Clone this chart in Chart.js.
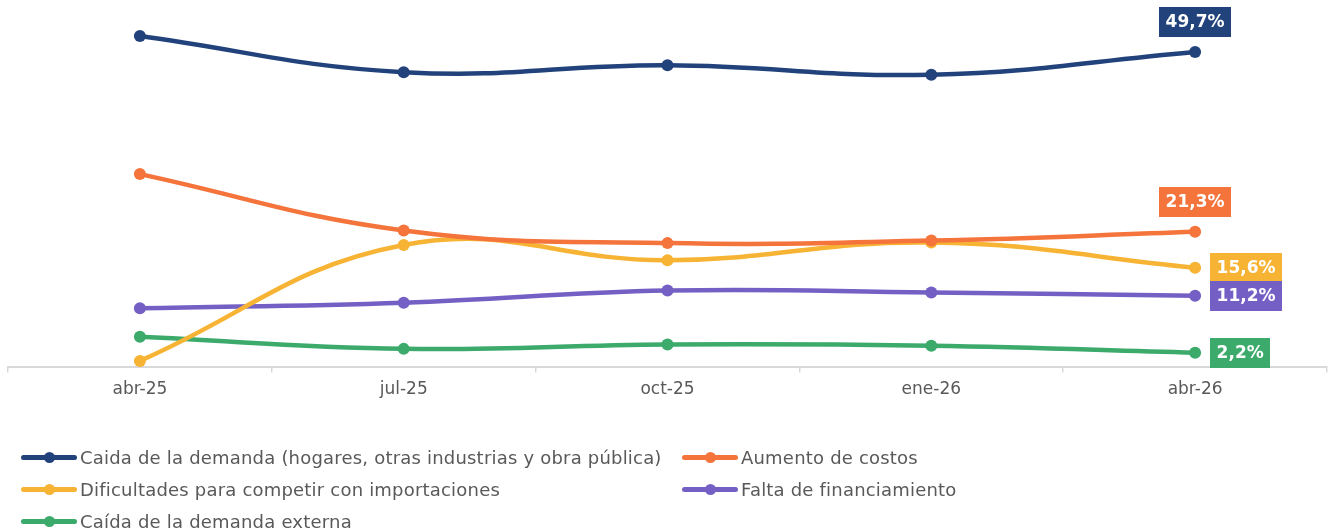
<!DOCTYPE html>
<html>
<head>
<meta charset="utf-8">
<script src="https://cdn.jsdelivr.net/npm/chart.js@4"></script>
<style>
  html, body { margin: 0; padding: 0; background: #ffffff; }
  #wrap { position: relative; width: 1333px; height: 531px; overflow: hidden; }
  #chartBox { position: absolute; left: 0; top: 0; width: 1333px; height: 407px; }
  #legend { position: absolute; left: 0; top: 0; width: 1333px; height: 531px; pointer-events: none;
            font-family: "DejaVu Sans", sans-serif; font-size: 18px; letter-spacing: 0.2px; color: #595959; }
  .item { position: absolute; height: 24px; display: flex; align-items: center; white-space: nowrap; }
  .sw { position: relative; width: 56px; height: 5px; border-radius: 3px; margin-right: 3px; }
  .sw::after { content: ""; position: absolute; left: 23px; top: -3px; width: 11px; height: 11px; border-radius: 50%; background: inherit; }
</style>
</head>
<body>
<div id="wrap">
  <div id="chartBox"><canvas id="c"></canvas></div>
  <div id="legend"></div>
</div>
<script>
const categories = ['abr-25', 'jul-25', 'oct-25', 'ene-26', 'abr-26'];
const seriesNames = [
  'Caida de la demanda (hogares, otras industrias y obra pública)',
  'Aumento de costos',
  'Dificultades para competir con importaciones',
  'Falta de financiamiento',
  'Caída de la demanda externa'
];
const demandaInterna = [52.2, 46.5, 47.6, 46.1, 49.7];
const aumentoCostos = [30.4, 21.5, 19.5, 19.9, 21.3];
const importaciones = [0.9, 19.2, 16.8, 19.6, 15.6];
const financiamiento = [9.2, 10.1, 12.0, 11.7, 11.2];
const demandaExterna = [4.7, 2.8, 3.5, 3.3, 2.2];
const seriesColors = ['#22427c', '#f4743b', '#f7b334', '#7460c4', '#3baa6b'];
const labelSide = ['top', 'top', 'right', 'right', 'right'];

const allValues = [demandaInterna, aumentoCostos, importaciones, financiamiento, demandaExterna];

const datasets = allValues.map((vals, i) => ({
  label: seriesNames[i],
  data: vals,
  borderColor: seriesColors[i],
  backgroundColor: seriesColors[i],
  borderWidth: 4.5,
  pointRadius: 6,
  pointHoverRadius: 6,
  pointBorderWidth: 0,
  tension: 0.42,
  clip: false,
  fill: false
}));

const fmt = v => v.toFixed(1).replace('.', ',') + '%';

const lastLabels = {
  id: 'lastLabels',
  afterDatasetsDraw(chart) {
    const ctx = chart.ctx;
    ctx.save();
    ctx.font = 'bold 17px "DejaVu Sans", sans-serif';
    ctx.textBaseline = 'middle';
    ctx.textAlign = 'center';
    chart.data.datasets.forEach((ds, i) => {
      const meta = chart.getDatasetMeta(i);
      const n = ds.data.length - 1;
      const pt = meta.data[n];
      const txt = fmt(ds.data[n]);
      const w = ctx.measureText(txt).width + 13;
      const h = 30;
      let cx, cy;
      if (labelSide[i] === 'top') {
        cx = pt.x; cy = pt.y - 15 - h / 2;
      } else {
        cx = pt.x + 15 + w / 2; cy = pt.y;
      }
      ctx.fillStyle = seriesColors[i];
      ctx.fillRect(Math.round(cx - w / 2), Math.round(cy - h / 2), Math.round(w), h);
      ctx.fillStyle = '#ffffff';
      ctx.fillText(txt, cx, cy + 1);
    });
    ctx.restore();
  }
};

new Chart(document.getElementById('c'), {
  type: 'line',
  data: { labels: categories, datasets },
  options: {
    responsive: true,
    maintainAspectRatio: false,
    animation: false,
    layout: { padding: { left: 8, right: 5, top: 12, bottom: 0 } },
    plugins: { legend: { display: false }, tooltip: { enabled: false } },
    scales: {
      x: {
        offset: true,
        grid: { offset: true, drawOnChartArea: false, drawTicks: true, tickLength: 6, color: '#d9d9d9', lineWidth: 1.5 },
        border: { display: true, color: '#d9d9d9', width: 2 },
        ticks: { color: '#595959', font: { family: '"DejaVu Sans", sans-serif', size: 17 }, padding: 7 }
      },
      y: { display: false, min: 0, max: 56 }
    }
  },
  plugins: [lastLabels]
});

// HTML legend built from the series arrays
const legend = document.getElementById('legend');
const legendCols = [21, 682];
const legendRows = [457, 489, 521];
seriesNames.forEach((name, i) => {
  const el = document.createElement('div');
  el.className = 'item';
  el.style.left = legendCols[i % 2] + 'px';
  el.style.top = (legendRows[Math.floor(i / 2)] - 12) + 'px';
  const sw = document.createElement('span');
  sw.className = 'sw';
  sw.style.background = seriesColors[i];
  const tx = document.createElement('span');
  tx.textContent = name;
  el.appendChild(sw);
  el.appendChild(tx);
  legend.appendChild(el);
});
</script>
</body>
</html>
